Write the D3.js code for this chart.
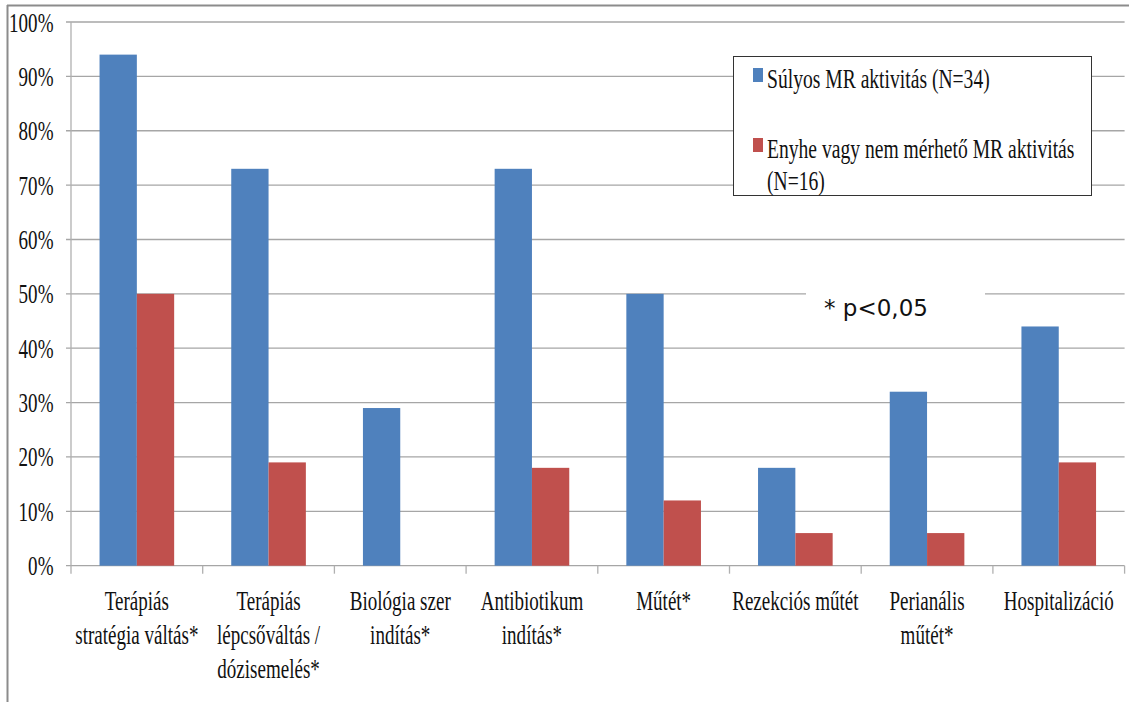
<!DOCTYPE html>
<html>
<head>
<meta charset="utf-8">
<script src="https://cdn.jsdelivr.net/npm/d3@7/dist/d3.min.js"></script>
<style>
  html, body { margin: 0; padding: 0; background: #fff; }
  svg { display: block; }
</style>
</head>
<body>
<svg id="chart" width="1129" height="702"></svg>
<script>
// Categories (multi-line axis labels)
const categories = [
  ["Terápiás", "stratégia váltás*"],
  ["Terápiás", "lépcsőváltás /", "dózisemelés*"],
  ["Biológia szer", "indítás*"],
  ["Antibiotikum", "indítás*"],
  ["Műtét*"],
  ["Rezekciós műtét"],
  ["Perianális", "műtét*"],
  ["Hospitalizáció"]
];
const seriesNames = ["Súlyos MR aktivitás (N=34)", "Enyhe vagy nem mérhető MR aktivitás (N=16)"];
const legendLines = [["Súlyos MR aktivitás (N=34)"], ["Enyhe vagy nem mérhető MR aktivitás", "(N=16)"]];
const severeValues = [94, 73, 29, 73, 50, 18, 32, 44];
const mildValues = [50, 19, 0, 18, 12, 6, 6, 19];
const yTicks = [0, 10, 20, 30, 40, 50, 60, 70, 80, 90, 100];
const noteText = "* p<0,05";
const colors = ["#4F81BD", "#C0504D"];

const svg = d3.select("#chart");
const SERIF = "'Liberation Serif', 'Times New Roman', serif";

const plot = { left: 71, right: 1124.6, top: 22, bottom: 565.7 };

const x = d3.scaleBand().domain(d3.range(categories.length)).range([plot.left, plot.right]).paddingInner(0).paddingOuter(0);
const xs = d3.scaleBand().domain([0, 1]).range([0, x.bandwidth()]).paddingInner(0).paddingOuter(0.765);
const y = d3.scaleLinear().domain([0, 100]).range([plot.bottom, plot.top]);

// outer frame
svg.append("line").attr("x1", 7).attr("x2", 1129).attr("y1", 5.5).attr("y2", 5.5).attr("stroke", "#8c8c8c").attr("stroke-width", 2);
svg.append("line").attr("x1", 7.5).attr("x2", 7.5).attr("y1", 5).attr("y2", 702).attr("stroke", "#8c8c8c").attr("stroke-width", 2);

// tall, narrow serif lettering
function narrowText(sel, tx, ty, anchor, sx) {
  return sel.append("text")
    .attr("transform", `translate(${tx},${ty}) scale(${sx || 0.68},1)`)
    .attr("font-family", SERIF)
    .attr("font-size", 28)
    .attr("fill", "#111")
    .attr("text-anchor", anchor || "start");
}

// horizontal grid + y labels
const grid = svg.append("g");
yTicks.forEach(t => {
  grid.append("line")
    .attr("x1", plot.left - 5).attr("x2", plot.right)
    .attr("y1", y(t)).attr("y2", y(t))
    .attr("stroke", "#a6a6a6").attr("stroke-width", 1.3);
  narrowText(grid, 53.5, y(t) + 9.5, "end").text(t + "%");
});

// y axis line
svg.append("line").attr("x1", plot.left).attr("x2", plot.left).attr("y1", plot.top).attr("y2", plot.bottom)
  .attr("stroke", "#b0b0b0").attr("stroke-width", 1.3);

// category boundary ticks
d3.range(categories.length + 1).forEach(i => {
  const xx = i < categories.length ? x(i) : plot.right;
  svg.append("line").attr("x1", xx).attr("x2", xx).attr("y1", plot.bottom).attr("y2", plot.bottom + 8)
    .attr("stroke", "#b0b0b0").attr("stroke-width", 1.3);
});

// bars
const data = [severeValues, mildValues];
const bars = svg.append("g");
categories.forEach((c, i) => {
  data.forEach((vals, s) => {
    const v = vals[i];
    if (v <= 0) return;
    bars.append("rect")
      .attr("x", x(i) + xs(s))
      .attr("y", y(v))
      .attr("width", xs.bandwidth())
      .attr("height", y(0) - y(v))
      .attr("fill", colors[s]);
  });
});

// category labels
const labels = svg.append("g");
categories.forEach((lines, i) => {
  const cx = x(i) + x.bandwidth() / 2;
  lines.forEach((ln, k) => {
    narrowText(labels, cx, 610 + k * 34, "middle").text(ln);
  });
});

// legend
const lg = svg.append("g");
lg.append("rect").attr("x", 733.5).attr("y", 56.5).attr("width", 358).attr("height", 139)
  .attr("fill", "#fff").attr("stroke", "#333").attr("stroke-width", 1);
const legendRows = [68, 138];
seriesNames.forEach((name, s) => {
  lg.append("rect").attr("x", 753).attr("y", legendRows[s]).attr("width", 10).attr("height", 14).attr("fill", colors[s]);
  legendLines[s].forEach((ln, k) => {
    narrowText(lg, 767, legendRows[s] + 20 + k * 32, "start", 0.7).text(ln);
  });
});

// significance note
const note = svg.append("g");
note.append("rect").attr("x", 806).attr("y", 282).attr("width", 179).attr("height", 46).attr("fill", "#fff");
note.append("text").attr("x", 824).attr("y", 316)
  .attr("font-family", "'DejaVu Sans', Verdana, sans-serif").attr("font-size", 23).attr("fill", "#111")
  .text(noteText);
</script>
</body>
</html>
